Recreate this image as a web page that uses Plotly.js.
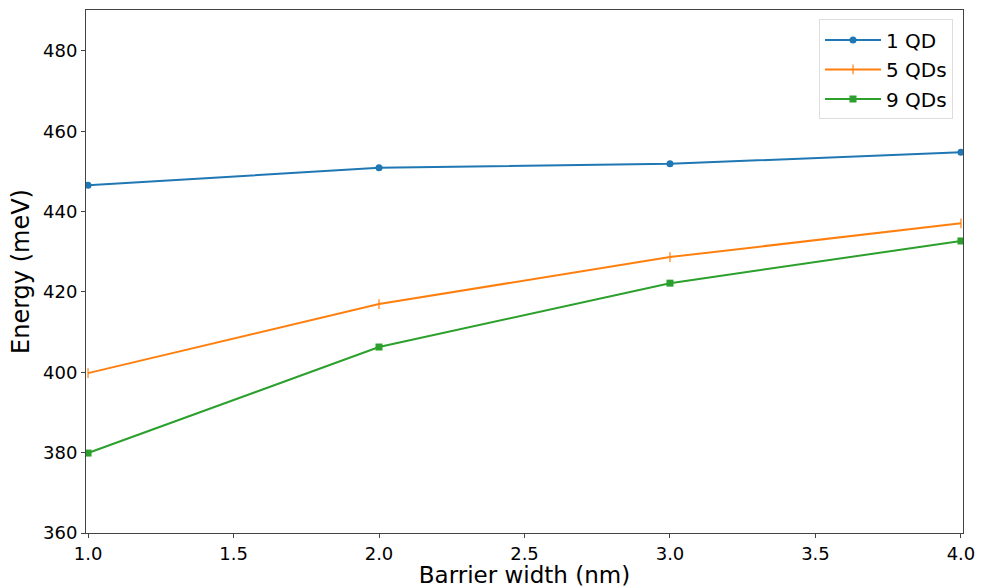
<!DOCTYPE html>
<html>
<head>
<meta charset="utf-8">
<script src="https://cdn.plot.ly/plotly-3.0.1.min.js"></script>
<style>html,body{margin:0;padding:0;background:#fff;}#chart{width:987px;height:588px;}</style>
</head>
<body>
<div id="chart"></div>
<script>
const barrierWidth = [1.0, 2.0, 3.0, 4.0];
const qd1 = [446.6, 450.9, 451.9, 454.8];
const qd5 = [399.8, 417.0, 428.7, 437.1];
const qd9 = [379.9, 406.3, 422.2, 432.7];
const seriesNames = ["1 QD", "5 QDs", "9 QDs"];
const xTicks = [1.0, 1.5, 2.0, 2.5, 3.0, 3.5, 4.0];
const yTicks = [360, 380, 400, 420, 440, 460, 480];

const font = "DejaVu Sans, sans-serif";
const traces = [
  {x: barrierWidth, y: qd1, name: seriesNames[0], legendgroup: "a", mode: "lines+markers",
   line: {color: "#1f77b4", width: 2}, marker: {symbol: "circle", size: 7, color: "#1f77b4"}},
  {x: barrierWidth, y: qd5, name: seriesNames[1], legendgroup: "b", mode: "lines+markers",
   line: {color: "#ff7f0e", width: 2}, marker: {symbol: "line-ns-open", size: 7, color: "#ff7f0e", line: {width: 1.2, color: "#ff7f0e"}}},
  {x: barrierWidth, y: qd9, name: seriesNames[2], legendgroup: "c", mode: "lines+markers",
   line: {color: "#2ca02c", width: 2}, marker: {symbol: "square", size: 7, color: "#2ca02c"}}
];
const layout = {
  width: 987, height: 588,
  margin: {l: 86, r: 24, t: 10, b: 55},
  paper_bgcolor: "#fff", plot_bgcolor: "#fff",
  font: {family: font, color: "#000"},
  showlegend: true,
  legend: {x: 0.9886, y: 0.982, xanchor: "right", yanchor: "top",
           bgcolor: "rgba(255,255,255,0.8)", bordercolor: "#ddd", borderwidth: 1,
           font: {size: 20, family: font}, traceorder: "grouped", tracegroupgap: 0.5,
           itemwidth: 56},
  xaxis: {range: [0.993, 4.007], tickvals: xTicks, ticktext: xTicks.map(v => v.toFixed(1)),
          showgrid: false, zeroline: false, showline: true, linecolor: "#444", linewidth: 1,
          mirror: true, ticks: "outside", ticklen: 4, tickcolor: "#444",
          tickfont: {size: 18, family: font},
          title: {text: "Barrier width (nm)", font: {size: 23, family: font}, standoff: 2}},
  yaxis: {range: [360, 490.2], tickvals: yTicks,
          showgrid: false, zeroline: false, showline: true, linecolor: "#444", linewidth: 1,
          mirror: true, ticks: "outside", ticklen: 4, tickcolor: "#444",
          tickfont: {size: 18, family: font},
          title: {text: "Energy (meV)", font: {size: 24, family: font}, standoff: 6}}
};
Plotly.newPlot("chart", traces, layout, {displayModeBar: false, staticPlot: true});
</script>
</body>
</html>
